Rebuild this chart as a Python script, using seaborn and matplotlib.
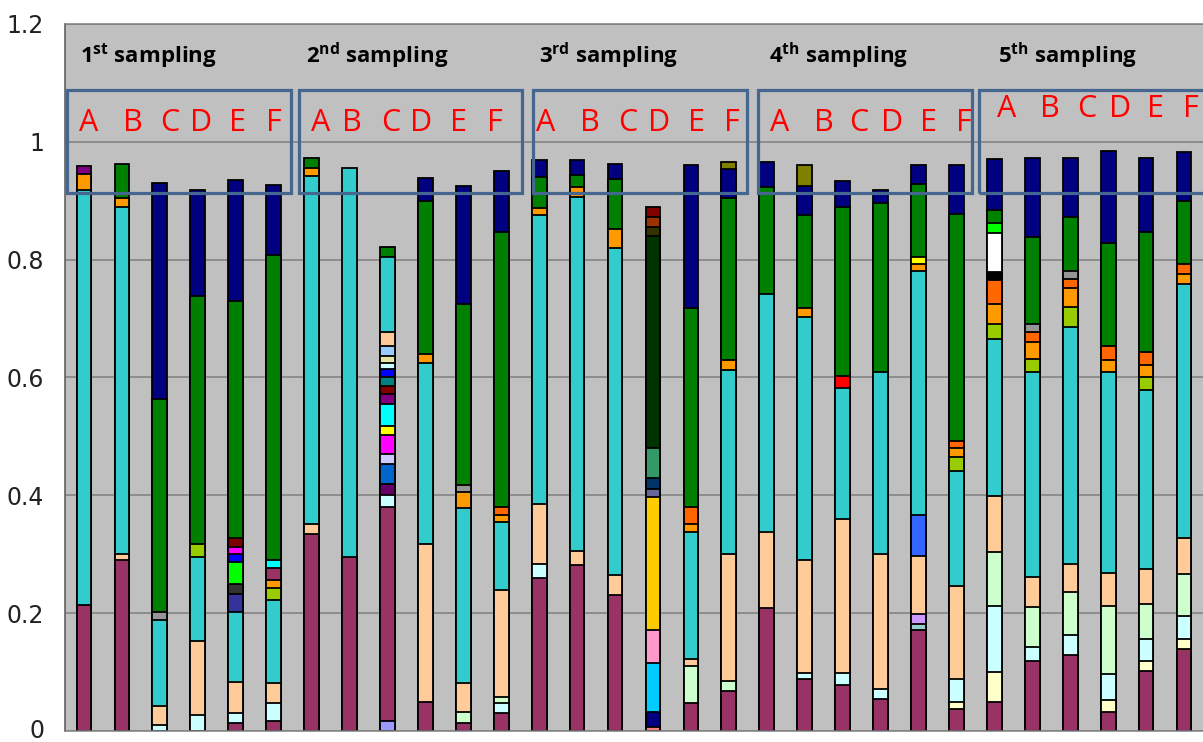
import numpy as np
import pandas as pd
import matplotlib
matplotlib.use("Agg")
import matplotlib.pyplot as plt
import seaborn as sns
from matplotlib.patches import Rectangle
from matplotlib.transforms import ScaledTranslation

# Fill colours of the taxonomic groups
COLORS = {
    "plum": "#993366", "cyan": "#33CCCC", "peach": "#FFCC99", "lightcyan": "#CCFFFF",
    "lightgreen": "#CCFFCC", "lightyellow": "#FFFFCC", "green": "#008000", "navy": "#000080",
    "orange": "#FF9900", "darkorange": "#FF6600", "lime": "#99CC00", "purple": "#800080",
    "gray": "#969696", "darkgray": "#333333", "darkblue": "#333399", "brightgreen": "#00FF00",
    "blue": "#0000FF", "magenta": "#FF00FF", "darkred": "#800000", "aqua": "#00FFFF",
    "lavblue": "#9999FF", "darkpurple": "#660066", "blue2": "#0066CC", "lavender": "#CCCCFF",
    "yellow": "#FFFF00", "teal": "#008080", "khaki": "#E6E6A0", "lightblue": "#99CCFF",
    "salmon": "#FF8080", "deepsky": "#00CCFF", "pink": "#FF99CC", "gold": "#FFCC00",
    "slate": "#666699", "darkblue2": "#003366", "seagreen": "#339966", "darkgreen": "#003300",
    "darkolive": "#333300", "brown": "#993300", "olive": "#808000", "red": "#FF0000",
    "lightteal": "#99CCCC", "lilac": "#CC99FF", "blue3": "#3366FF", "black": "#000000",
    "white": "#FFFFFF",
}

sites = ["A", "B", "C", "D", "E", "F"]
samplings = ["1$^{\\mathbf{st}}$ sampling", "2$^{\\mathbf{nd}}$ sampling", "3$^{\\mathbf{rd}}$ sampling",
             "4$^{\\mathbf{th}}$ sampling", "5$^{\\mathbf{th}}$ sampling"]

# Relative abundances per site, segments listed bottom to top as (group, fraction)
sampling_1 = [
    [("plum", .214), ("cyan", .704), ("orange", .027), ("purple", .014)],
    [("plum", .291), ("peach", .009), ("cyan", .590), ("orange", .015), ("green", .058)],
    [("lightcyan", .010), ("peach", .032), ("cyan", .146), ("gray", .014), ("green", .362), ("navy", .366)],
    [("lightcyan", .027), ("peach", .126), ("cyan", .143), ("lime", .022), ("green", .421), ("navy", .180)],
    [("plum", .014), ("lightcyan", .016), ("peach", .054), ("cyan", .118), ("darkblue", .030),
     ("darkgray", .018), ("brightgreen", .036), ("blue", .014), ("magenta", .012), ("darkred", .016),
     ("green", .401), ("navy", .206)],
    [("plum", .017), ("lightcyan", .031), ("peach", .033), ("cyan", .142), ("lime", .019), ("orange", .015),
     ("plum", .019), ("aqua", .015), ("green", .517), ("navy", .119)],
]
sampling_2 = [
    [("plum", .335), ("peach", .016), ("cyan", .591), ("orange", .014), ("green", .016)],
    [("plum", .295), ("cyan", .661)],
    [("lavblue", .017), ("plum", .364), ("lightcyan", .020), ("darkpurple", .019), ("blue2", .034),
     ("lavender", .017), ("magenta", .031), ("yellow", .015), ("aqua", .038), ("purple", .017),
     ("darkred", .014), ("teal", .014), ("blue", .015), ("lightcyan", .009), ("khaki", .013),
     ("lightblue", .017), ("peach", .023), ("cyan", .128), ("green", .016)],
    [("plum", .050), ("peach", .267), ("cyan", .308), ("orange", .015), ("green", .260), ("navy", .038)],
    [("plum", .013), ("lightgreen", .020), ("peach", .048), ("cyan", .298), ("orange", .027), ("gray", .011),
     ("green", .307), ("navy", .201)],
    [("plum", .030), ("lightcyan", .017), ("lightgreen", .011), ("peach", .181), ("cyan", .116),
     ("orange", .011), ("darkorange", .014), ("green", .467), ("navy", .104)],
]
sampling_3 = [
    [("plum", .260), ("lightcyan", .023), ("peach", .103), ("cyan", .490), ("orange", .011), ("green", .054),
     ("navy", .028)],
    [("plum", .281), ("peach", .025), ("cyan", .600), ("orange", .018), ("green", .020), ("navy", .025)],
    [("plum", .231), ("peach", .033), ("cyan", .555), ("orange", .033), ("green", .085), ("navy", .026)],
    [("salmon", .006), ("navy", .027), ("deepsky", .082), ("pink", .057), ("gold", .226), ("slate", .013),
     ("darkblue2", .018), ("seagreen", .051), ("darkgreen", .361), ("darkolive", .015), ("brown", .017),
     ("darkred", .017)],
    [("plum", .048), ("lightgreen", .063), ("peach", .012), ("cyan", .215), ("orange", .014),
     ("darkorange", .029), ("green", .337), ("navy", .243)],
    [("plum", .068), ("lightgreen", .017), ("peach", .215), ("cyan", .313), ("orange", .017), ("green", .274),
     ("navy", .050), ("olive", .011)],
]
sampling_4 = [
    [("plum", .209), ("peach", .129), ("cyan", .404), ("green", .182), ("navy", .041)],
    [("plum", .088), ("lightcyan", .011), ("peach", .192), ("cyan", .412), ("orange", .015), ("green", .158),
     ("navy", .049), ("olive", .036)],
    [("plum", .078), ("lightcyan", .020), ("peach", .261), ("cyan", .224), ("red", .019), ("green", .288),
     ("navy", .043)],
    [("plum", .054), ("lightcyan", .017), ("peach", .230), ("cyan", .308), ("green", .288), ("navy", .021)],
    [("plum", .172), ("lightteal", .010), ("lilac", .017), ("peach", .098), ("blue3", .069), ("cyan", .414),
     ("orange", .013), ("yellow", .012), ("green", .123), ("navy", .033)],
    [("plum", .037), ("lightyellow", .013), ("lightcyan", .038), ("peach", .158), ("cyan", .195),
     ("lime", .024), ("orange", .015), ("darkorange", .012), ("green", .385), ("navy", .084)],
]
sampling_5 = [
    [("plum", .050), ("lightyellow", .050), ("lightcyan", .113), ("lightgreen", .090), ("peach", .096),
     ("cyan", .266), ("lime", .025), ("orange", .034), ("darkorange", .041), ("black", .014),
     ("white", .066), ("brightgreen", .017), ("green", .023), ("navy", .086)],
    [("plum", .118), ("lightcyan", .024), ("lightgreen", .068), ("peach", .052), ("cyan", .347),
     ("lime", .023), ("orange", .028), ("darkorange", .017), ("gray", .014), ("green", .147), ("navy", .134)],
    [("plum", .129), ("lightcyan", .034), ("lightgreen", .073), ("peach", .047), ("cyan", .403),
     ("lime", .034), ("orange", .032), ("darkorange", .015), ("gray", .013), ("green", .093), ("navy", .099)],
    [("plum", .033), ("lightyellow", .020), ("lightcyan", .043), ("lightgreen", .117), ("peach", .056),
     ("cyan", .341), ("orange", .019), ("darkorange", .025), ("green", .174), ("navy", .157)],
    [("plum", .102), ("lightyellow", .016), ("lightcyan", .038), ("lightgreen", .060), ("peach", .059),
     ("cyan", .304), ("lime", .022), ("orange", .020), ("darkorange", .023), ("green", .203), ("navy", .126)],
    [("plum", .139), ("lightyellow", .018), ("lightcyan", .038), ("lightgreen", .072), ("peach", .061),
     ("cyan", .430), ("orange", .017), ("darkorange", .017), ("green", .108), ("navy", .082)],
]

# ---- long-form table: one row per segment, with its cumulative top ----
rows = []
bar = 0
for s_idx, block in enumerate([sampling_1, sampling_2, sampling_3, sampling_4, sampling_5]):
    for site_idx, segs in enumerate(block):
        tops = np.cumsum([v for _, v in segs])
        n = len(segs)
        for i, ((grp, val), top) in enumerate(zip(segs, tops)):
            rows.append({"bar": bar, "sampling": s_idx, "site": sites[site_idx], "group": grp,
                         "value": val, "top": top, "rank_from_top": n - 1 - i})
        bar += 1
df = pd.DataFrame(rows)
n_bars = bar

sns.set_theme(style="white")
plt.rcParams["font.family"] = ["DejaVu Sans"]
plt.rcParams["mathtext.fontset"] = "custom"
plt.rcParams["mathtext.bf"] = "Open Sans:bold"
plt.rcParams["mathtext.rm"] = "Open Sans:bold"

fig = plt.figure(figsize=(12.03, 7.42), dpi=100)
ax = fig.add_axes([65 / 1203, 11 / 742, 1138 / 1203, 707 / 742])

# Stacks are drawn top segment first; each lower segment is drawn over the
# part of the column below its own top.
for r in range(int(df["rank_from_top"].max()) + 1):
    sub = df[df["rank_from_top"] == r].copy()
    sub["key"] = sub["bar"].astype(str)
    pal = {k: COLORS[g] for k, g in zip(sub["key"], sub["group"])}
    sns.barplot(data=sub, x="bar", y="top", hue="key", palette=pal, order=list(range(n_bars)),
                dodge=False, width=0.39, saturation=1, errorbar=None, legend=False,
                edgecolor="black", linewidth=1.3, ax=ax, zorder=2)

ax.set_xlim(-0.5, n_bars - 0.5)
ax.set_ylim(0, 1.2)
ax.set_facecolor("#C0C0C0")
ax.set_xlabel("")
ax.set_ylabel("")
yt = np.round(np.arange(0, 1.21, 0.2), 1)
ax.set_yticks(yt)
ax.set_yticklabels(["0", "0.2", "0.4", "0.6", "0.8", "1", "1.2"])
ax.set_xticks(np.arange(-0.5, n_bars, 1))
ax.set_xticklabels([])
ax.yaxis.grid(True, color="#808080", linewidth=1.1)
ax.xaxis.grid(False)
ax.set_axisbelow(True)
ax.tick_params(axis="both", direction="out", length=5, width=1, color="#808080")
ax.tick_params(axis="y", labelsize=17, pad=10, labelcolor="#222222")
for side in ["left", "bottom", "top"]:
    ax.spines[side].set_visible(True)
    ax.spines[side].set_color("#808080")
    ax.spines[side].set_linewidth(1.1)
ax.spines["left"].set_color("#555555")
ax.spines["right"].set_visible(False)

# lift the "0" label slightly so it stays inside the figure
zero_lbl = ax.get_yticklabels()[0]
zero_lbl.set_transform(zero_lbl.get_transform() + ScaledTranslation(0, 2 / 72, fig.dpi_scale_trans))

# Sampling headers and site boxes
header_x = [-0.1, 5.85, 12.0, 18.05, 24.1]
box_spans = [(-0.45, 5.46), (5.67, 11.56), (11.85, 17.47), (17.76, 23.4), (23.6, 30.2)]
letter_x = [
    [0.11, 1.29, 2.27, 3.09, 4.06, 5.01],
    [6.23, 7.07, 8.08, 8.89, 9.87, 10.82],
    [12.16, 13.33, 14.33, 15.15, 16.15, 17.07],
    [18.34, 19.5, 20.42, 21.29, 22.27, 23.19],
    [24.33, 25.46, 26.44, 27.31, 28.26, 29.18],
]
letter_y = [1.032, 1.032, 1.032, 1.032, 1.056]
for k in range(5):
    ax.text(header_x[k], 1.146, samplings[k], fontsize=16, fontweight="bold", family="Open Sans",
            ha="left", va="center", color="black", zorder=5)
    x0, x1 = box_spans[k]
    ax.add_patch(Rectangle((x0, 0.914), x1 - x0, 0.174, fill=False, edgecolor="#45668F",
                           linewidth=2.3, zorder=4))
    for lx, s in zip(letter_x[k], sites):
        ax.text(lx, letter_y[k], s, fontsize=22, family="Open Sans", color="#FF0000",
                ha="center", va="center", zorder=5)

fig.savefig("out.png", dpi=100)
